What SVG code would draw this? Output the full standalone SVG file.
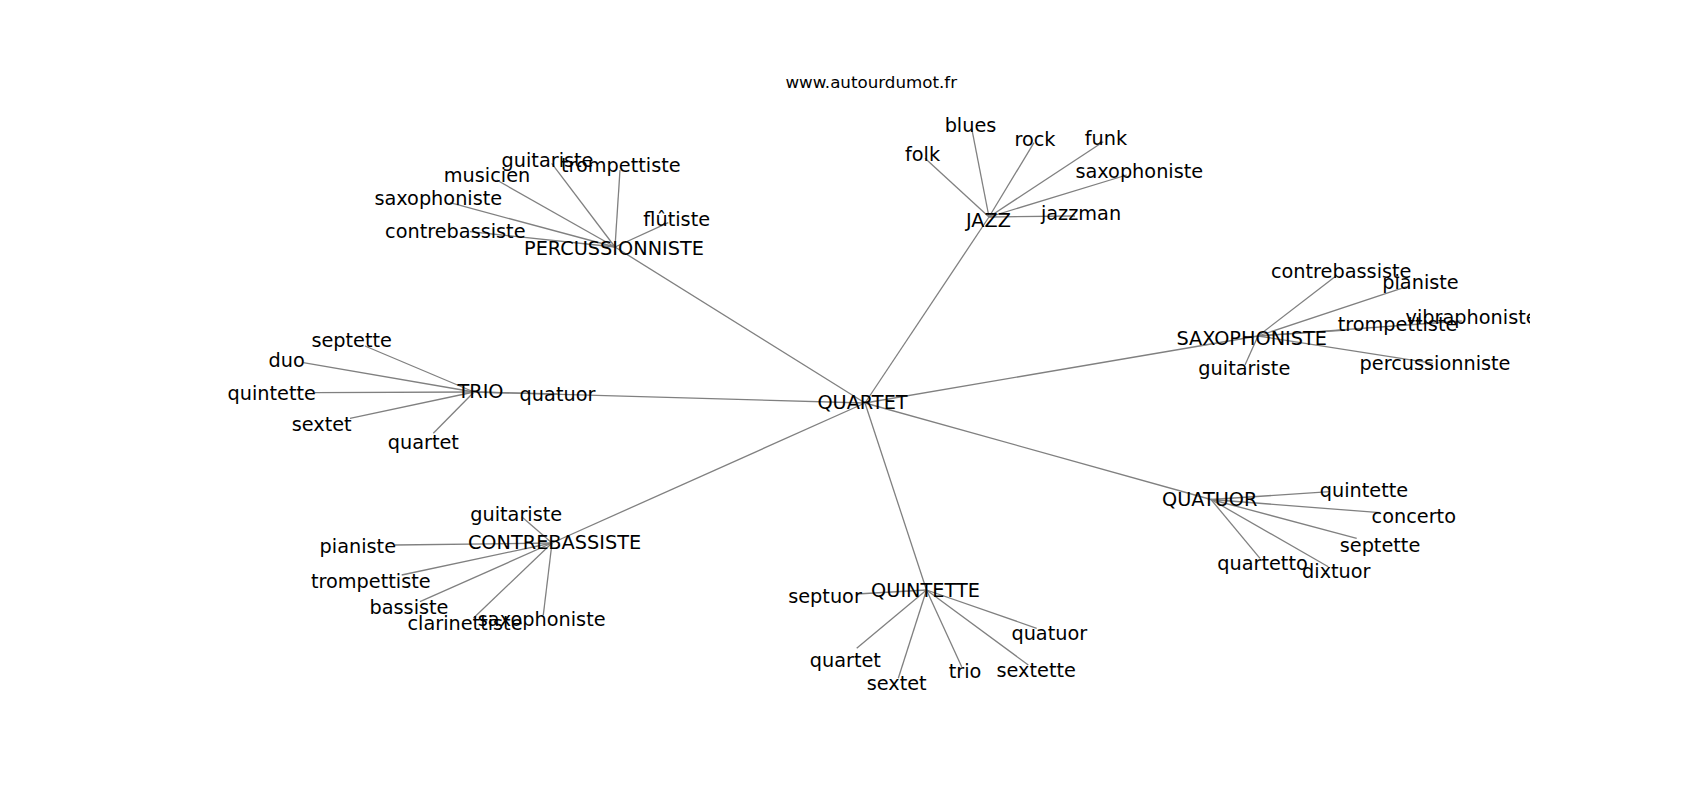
<svg xmlns="http://www.w3.org/2000/svg" width="1700" height="800" viewBox="0 0 1700 800">
<style>
.e{stroke:#808080;stroke-width:1.3;fill:none}
.l{font-family:"DejaVu Sans","Liberation Sans",sans-serif;font-size:19.3px;text-anchor:middle;fill:#000}
.t{font-family:"DejaVu Sans","Liberation Sans",sans-serif;font-size:16.7px;text-anchor:middle;fill:#000}
</style>
<defs>
<clipPath id="axes"><rect x="212.5" y="96" width="1317.5" height="616"/></clipPath>
</defs>
<rect x="0" y="0" width="1700" height="800" fill="#fff"/>
<text class="t" x="871.25" y="88">www.autourdumot.fr</text>
<g id="connectors" clip-path="url(#axes)">
<line class="e" x1="865" y1="403" x2="989" y2="217"/>
<line class="e" x1="865" y1="403" x2="615" y2="247"/>
<line class="e" x1="865" y1="403" x2="474" y2="392"/>
<line class="e" x1="865" y1="403" x2="1258" y2="336"/>
<line class="e" x1="865" y1="403" x2="1211" y2="499.5"/>
<line class="e" x1="865" y1="403" x2="926.5" y2="590"/>
<line class="e" x1="865" y1="403" x2="552" y2="543"/>
<line class="e" x1="615" y1="247" x2="551.7" y2="163.3"/>
<line class="e" x1="615" y1="247" x2="620" y2="170"/>
<line class="e" x1="615" y1="247" x2="496.7" y2="180"/>
<line class="e" x1="615" y1="247" x2="450" y2="202.7"/>
<line class="e" x1="615" y1="247" x2="470" y2="231.7"/>
<line class="e" x1="615" y1="247" x2="668.3" y2="222.7"/>
<line class="e" x1="989" y1="217" x2="925" y2="158.3"/>
<line class="e" x1="989" y1="217" x2="971.7" y2="128.3"/>
<line class="e" x1="989" y1="217" x2="1034" y2="142.7"/>
<line class="e" x1="989" y1="217" x2="1103.3" y2="141.7"/>
<line class="e" x1="989" y1="217" x2="1126.7" y2="175"/>
<line class="e" x1="989" y1="217" x2="1075" y2="216"/>
<line class="e" x1="1258" y1="336" x2="1335" y2="276.7"/>
<line class="e" x1="1258" y1="336" x2="1406.7" y2="286.7"/>
<line class="e" x1="1258" y1="336" x2="1461.7" y2="321"/>
<line class="e" x1="1258" y1="336" x2="1346.7" y2="330"/>
<line class="e" x1="1258" y1="336" x2="1433" y2="363.3"/>
<line class="e" x1="1258" y1="336" x2="1245" y2="365"/>
<line class="e" x1="474" y1="392" x2="365" y2="346"/>
<line class="e" x1="474" y1="392" x2="303.3" y2="362.7"/>
<line class="e" x1="474" y1="392" x2="315" y2="392.7"/>
<line class="e" x1="474" y1="392" x2="350" y2="418.3"/>
<line class="e" x1="474" y1="392" x2="433.3" y2="433.3"/>
<line class="e" x1="474" y1="392" x2="557.5" y2="394"/>
<line class="e" x1="552" y1="543" x2="521.7" y2="516.7"/>
<line class="e" x1="552" y1="543" x2="395" y2="545"/>
<line class="e" x1="552" y1="543" x2="401.7" y2="575"/>
<line class="e" x1="552" y1="543" x2="420" y2="601.7"/>
<line class="e" x1="552" y1="543" x2="473.3" y2="618.3"/>
<line class="e" x1="552" y1="543" x2="543.3" y2="615"/>
<line class="e" x1="926.5" y1="590" x2="856.7" y2="594"/>
<line class="e" x1="926.5" y1="590" x2="1036.7" y2="628.3"/>
<line class="e" x1="926.5" y1="590" x2="856.7" y2="648.3"/>
<line class="e" x1="926.5" y1="590" x2="898.3" y2="678.3"/>
<line class="e" x1="926.5" y1="590" x2="961.7" y2="666.7"/>
<line class="e" x1="926.5" y1="590" x2="1028.3" y2="665"/>
<line class="e" x1="1211" y1="499.5" x2="1330" y2="491.7"/>
<line class="e" x1="1211" y1="499.5" x2="1380" y2="512.7"/>
<line class="e" x1="1211" y1="499.5" x2="1356.7" y2="538.3"/>
<line class="e" x1="1211" y1="499.5" x2="1328.3" y2="566.7"/>
<line class="e" x1="1211" y1="499.5" x2="1260" y2="558.3"/>
</g>
<g id="nodes" clip-path="url(#axes)">
<g id="quartet"><text class="l" x="862.5" y="409">QUARTET</text></g>
<g id="jazz"><text class="l" x="988.5" y="226.5">JAZZ</text></g>
<g id="percussionniste"><text class="l" x="614" y="254.5">PERCUSSIONNISTE</text></g>
<g id="trio"><text class="l" x="480.5" y="398">TRIO</text></g>
<g id="saxophoniste"><text class="l" x="1251.7" y="344.5">SAXOPHONISTE</text></g>
<g id="quatuor"><text class="l" x="1209.7" y="506">QUATUOR</text></g>
<g id="quintette"><text class="l" x="925.5" y="596.5">QUINTETTE</text></g>
<g id="contrebassiste"><text class="l" x="554.5" y="548.8">CONTREBASSISTE</text></g>

<g id="perc-guitariste"><text class="l" x="547.5" y="167">guitariste</text></g>
<g id="perc-trompettiste"><text class="l" x="620.8" y="171.5">trompettiste</text></g>
<g id="perc-musicien"><text class="l" x="487" y="181.7">musicien</text></g>
<g id="perc-saxophoniste"><text class="l" x="438.3" y="205">saxophoniste</text></g>
<g id="perc-contrebassiste"><text class="l" x="455.3" y="237.7">contrebassiste</text></g>
<g id="perc-flutiste"><text class="l" x="676.7" y="226">flûtiste</text></g>

<g id="jazz-folk"><text class="l" x="922.5" y="160.8">folk</text></g>
<g id="jazz-blues"><text class="l" x="970.5" y="131.5">blues</text></g>
<g id="jazz-rock"><text class="l" x="1035" y="145.5">rock</text></g>
<g id="jazz-funk"><text class="l" x="1106" y="144.8">funk</text></g>
<g id="jazz-saxophoniste"><text class="l" x="1139.3" y="177.5">saxophoniste</text></g>
<g id="jazz-jazzman"><text class="l" x="1081" y="219.8">jazzman</text></g>

<g id="sax-contrebassiste"><text class="l" x="1341.2" y="277.7">contrebassiste</text></g>
<g id="sax-pianiste"><text class="l" x="1420.5" y="289.3">pianiste</text></g>
<g id="sax-vibraphoniste"><text class="l" x="1471.6" y="323.5">vibraphoniste</text></g>
<g id="sax-trompettiste"><text class="l" x="1397.5" y="330.8">trompettiste</text></g>
<g id="sax-percussionniste"><text class="l" x="1435" y="369.8">percussionniste</text></g>
<g id="sax-guitariste"><text class="l" x="1244.3" y="375">guitariste</text></g>

<g id="trio-septette"><text class="l" x="351.7" y="346.5">septette</text></g>
<g id="trio-duo"><text class="l" x="286.7" y="366.5">duo</text></g>
<g id="trio-quintette"><text class="l" x="271.7" y="400">quintette</text></g>
<g id="trio-sextet"><text class="l" x="321.7" y="431">sextet</text></g>
<g id="trio-quartet"><text class="l" x="423.3" y="448.8">quartet</text></g>
<g id="trio-quatuor"><text class="l" x="557.5" y="400.5">quatuor</text></g>

<g id="cb-guitariste"><text class="l" x="516.2" y="520.5">guitariste</text></g>
<g id="cb-pianiste"><text class="l" x="357.8" y="553">pianiste</text></g>
<g id="cb-trompettiste"><text class="l" x="370.8" y="588">trompettiste</text></g>
<g id="cb-bassiste"><text class="l" x="409" y="614">bassiste</text></g>
<g id="cb-clarinettiste"><text class="l" x="465" y="629.8">clarinettiste</text></g>
<g id="cb-saxophoniste"><text class="l" x="541.7" y="625.5">saxophoniste</text></g>

<g id="qt-septuor"><text class="l" x="825" y="603">septuor</text></g>
<g id="qt-quatuor"><text class="l" x="1049.3" y="639.8">quatuor</text></g>
<g id="qt-quartet"><text class="l" x="845.3" y="666.5">quartet</text></g>
<g id="qt-sextet"><text class="l" x="896.7" y="690">sextet</text></g>
<g id="qt-trio"><text class="l" x="965" y="678.2">trio</text></g>
<g id="qt-sextette"><text class="l" x="1036.2" y="676.5">sextette</text></g>

<g id="qu-quintette"><text class="l" x="1364" y="496.5">quintette</text></g>
<g id="qu-concerto"><text class="l" x="1413.8" y="523.2">concerto</text></g>
<g id="qu-septette"><text class="l" x="1380" y="552.2">septette</text></g>
<g id="qu-quartetto"><text class="l" x="1262.5" y="569.8">quartetto</text></g>
<g id="qu-dixtuor"><text class="l" x="1336.3" y="578">dixtuor</text></g>
</g>
</svg>
